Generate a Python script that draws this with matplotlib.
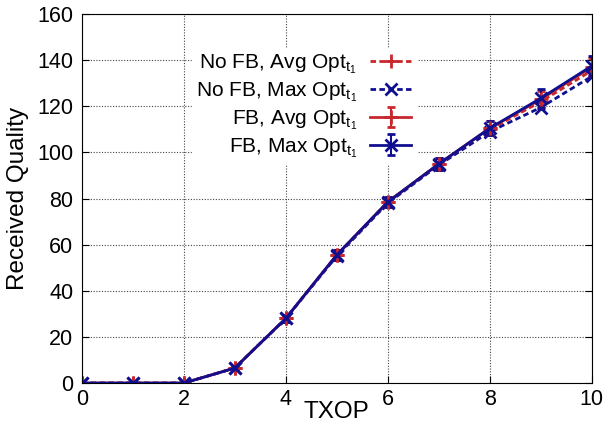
import matplotlib
matplotlib.use('Agg')
import matplotlib.pyplot as plt

plt.rcParams['font.family'] = ['Liberation Sans', 'DejaVu Sans']
plt.rcParams['mathtext.fontset'] = 'custom'
plt.rcParams['mathtext.rm'] = 'Liberation Sans'
plt.rcParams['mathtext.it'] = 'Liberation Sans'

# данные
txop = [0, 1, 2, 3, 4, 5, 6, 7, 8, 9, 10]
nofb_avg = [0, 0, 0, 6.5, 28, 55.5, 78.5, 95, 110, 122, 135.5]
nofb_max = [0, 0, 0, 6.5, 28, 55, 78, 94.5, 109, 119.5, 133]
fb_avg = [0, 0, 0, 6.5, 28, 55.5, 78.5, 95, 110.5, 123, 137]
fb_max = [0, 0, 0, 6.5, 28, 55.5, 78.5, 95, 110.5, 123.5, 137.5]
fb_avg_err = [0, 0, 0, 1, 1.5, 2, 2, 2.5, 3, 3.5, 4]
fb_max_err = [0, 0, 0, 1, 1.5, 2, 2, 2.5, 3, 4, 4.5]

red = '#c8282d'
blue = '#0f0f90'

fig = plt.figure(figsize=(6.1, 4.28), dpi=100)
ax = fig.add_axes([0.134, 0.105, 0.836, 0.862])

ax.plot(txop, nofb_avg, color=red, linestyle=(0, (2, 1.2)), lw=2,
        marker='+', ms=10, mew=2, label=r'No FB, Avg Opt$_{\mathrm{t}_1}$')
ax.plot(txop, nofb_max, color=blue, linestyle=(0, (2, 1.2)), lw=2,
        marker='x', ms=9, mew=2, label=r'No FB, Max Opt$_{\mathrm{t}_1}$')
ax.errorbar(txop, fb_avg, yerr=fb_avg_err, color=red, lw=2, capsize=3,
            elinewidth=1.5, capthick=1.5,
            marker='+', ms=10, mew=2, label=r'FB, Avg Opt$_{\mathrm{t}_1}$')
ax.errorbar(txop, fb_max, yerr=fb_max_err, color=blue, lw=2, capsize=3,
            elinewidth=1.5, capthick=1.5,
            marker='x', ms=9, mew=2, label=r'FB, Max Opt$_{\mathrm{t}_1}$')

ax.set_xlim(0, 10)
ax.set_ylim(0, 160)
ax.set_xticks(range(0, 11, 2))
ax.set_yticks(range(0, 161, 20))
ax.tick_params(direction='in', top=False, right=True, labelsize=15.5, length=5, pad=4)
ax.tick_params(axis='y', pad=6)
ax.grid(True, linestyle=(0, (1, 1.5)), color='#444444', lw=0.8)
ax.set_axisbelow(True)

ax.set_xlabel('TXOP', fontsize=17.5, labelpad=-6)
ax.set_ylabel('Received Quality', fontsize=17.5, labelpad=6)

leg = ax.legend(loc='upper right', bbox_to_anchor=(0.675, 0.935), markerfirst=False,
                frameon=True, fontsize=15, handlelength=2.0, labelspacing=0.2,
                borderpad=0.2, handletextpad=0.6)
leg.get_frame().set_edgecolor('white')
leg.get_frame().set_alpha(1)

fig.savefig('out.png', dpi=100)
